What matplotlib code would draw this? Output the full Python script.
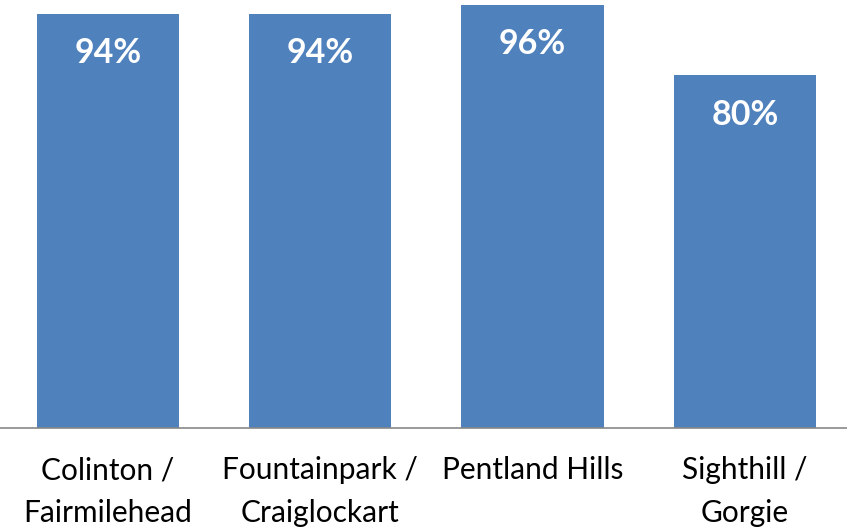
import matplotlib.pyplot as plt

# Data
areas = ["Colinton /\nFairmilehead", "Fountainpark /\nCraiglockart", "Pentland Hills", "Sighthill /\nGorgie"]
values = [94, 94, 96, 80]

plt.rcParams['font.family'] = ['Lato', 'DejaVu Sans']

fig = plt.figure(figsize=(8.47, 5.3), dpi=100)
ax = fig.add_axes([0.0, 0.1925, 1.0, 0.8075])

x = range(len(areas))
bars = ax.bar(x, values, width=0.67, color="#4F81BD")

for xi, v in zip(x, values):
    ax.annotate(f"{v}%", (xi, v), xytext=(0, -28.5), textcoords="offset points",
                ha="center", va="center", color="white", fontsize=24.5, fontweight="bold")

ax.set_xlim(-0.509, 3.481)
ax.set_ylim(0, 97.1)
ax.set_xticks(list(x))
ax.set_xticklabels(areas, fontsize=21.5, linespacing=1.62)
ax.tick_params(axis="x", length=0, pad=20.5)
ax.set_yticks([])
for s in ["top", "left", "right"]:
    ax.spines[s].set_visible(False)
ax.spines["bottom"].set_color("#888888")
ax.spines["bottom"].set_linewidth(1.2)

fig.savefig("out.png", dpi=100)
